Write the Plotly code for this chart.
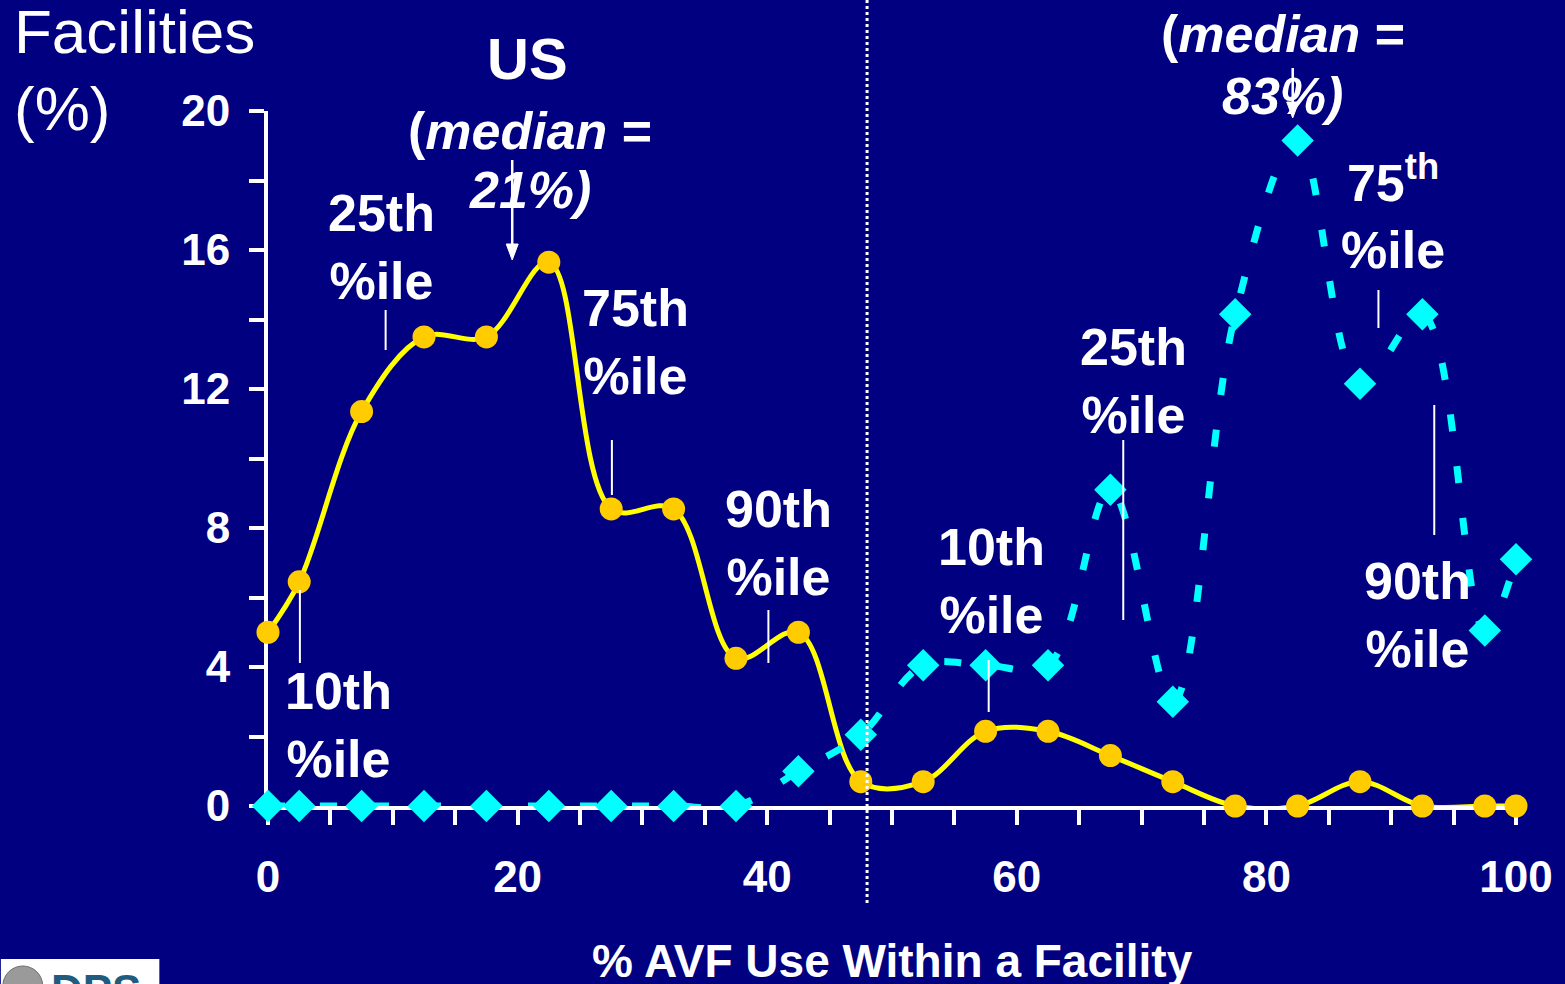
import plotly.graph_objects as go

# Share of facilities (%) by AVF use within a facility (%)
avf_use = [0, 2.5, 7.5, 12.5, 17.5, 22.5, 27.5, 32.5, 37.5, 42.5, 47.5,
           52.5, 57.5, 62.5, 67.5, 72.5, 77.5, 82.5, 87.5, 92.5, 97.5, 100]
us_pct = [5.0, 6.45, 11.35, 13.5, 13.5, 15.65, 8.55, 8.55, 4.25, 5.0, 0.7,
          0.7, 2.15, 2.15, 1.45, 0.7, 0, 0, 0.7, 0, 0, 0]
other_pct = [0, 0, 0, 0, 0, 0, 0, 0, 0, 1.0, 2.05,
             4.05, 4.05, 4.05, 9.1, 3.0, 14.15, 19.15, 12.15, 14.15, 5.05, 7.1]

x_ticks = [0, 20, 40, 60, 80, 100]
y_ticks = [0, 4, 8, 12, 16, 20]

BG = "#000080"
FONT = "Liberation Sans, Arial, sans-serif"
W, H = 1565, 984
L, R, T, B = 268, 45, 111, 178
PW, PH = W - L - R, H - T - B


def px_x(px):
    """pixel column -> paper x"""
    return (px - L) / PW


def px_y(py):
    """pixel row -> paper y"""
    return (H - B - py) / PH


fig = go.Figure()

fig.add_trace(go.Scatter(
    x=avf_use, y=us_pct, name="US",
    mode="lines+markers",
    line=dict(color="#FFFF00", width=5, shape="spline", smoothing=1),
    marker=dict(symbol="circle", size=23, color="#FFCC00"),
    cliponaxis=False,
))
fig.add_trace(go.Scatter(
    x=avf_use, y=other_pct, name="median 83%",
    mode="lines+markers",
    line=dict(color="#00FFFF", width=7, shape="spline", smoothing=1,
              dash="17px,35px"),
    marker=dict(symbol="diamond", size=25, color="#00FFFF"),
    cliponaxis=False,
))

# vertical dotted divider
fig.add_shape(type="line", xref="paper", yref="paper",
              x0=px_x(869), x1=px_x(869), y0=px_y(0), y1=px_y(905),
              line=dict(color="white", width=3, dash="dot"))

# leader lines for the percentile labels
leaders = [(386, 310, 350), (613, 440, 495), (300, 590, 663), (770, 610, 663),
           (1126, 440, 620), (991, 660, 712), (1382, 290, 328), (1438, 405, 535)]
for px, py0, py1 in leaders:
    fig.add_shape(type="line", xref="paper", yref="paper",
                  x0=px_x(px), x1=px_x(px), y0=px_y(py0), y1=px_y(py1),
                  line=dict(color="white", width=2))

white = "white"

# median arrows: shaft plus a filled head
for px, tip, tail in [(513, 260, 160), (1296, 118, 68)]:
    fig.add_shape(type="line", xref="paper", yref="paper",
                  x0=px_x(px), x1=px_x(px), y0=px_y(tail), y1=px_y(tip - 10),
                  line=dict(color=white, width=2.5))
    head = "M {},{} L {},{} L {},{} Z".format(
        px_x(px - 6), px_y(tip - 16), px_x(px + 6), px_y(tip - 16),
        px_x(px), px_y(tip))
    fig.add_shape(type="path", xref="paper", yref="paper", path=head,
                  fillcolor=white, line=dict(color=white, width=1))


def label(text, px, py, size=52, bold=True, anchor="center"):
    fig.add_annotation(
        x=px_x(px), y=px_y(py), xref="paper", yref="paper", text=text,
        showarrow=False, xanchor=anchor, yanchor="middle", align="center",
        font=dict(family=FONT, size=size, color=white,
                  weight="bold" if bold else "normal"),
    )


label("Facilities", 11, 32, size=62, bold=False, anchor="left")
label("(%)", 11, 108, size=62, bold=False, anchor="left")

label("US", 528, 58, size=58)
label("(<i>median</i> =", 531, 131)
label("<i>21%)</i>", 531, 190)
label("(<i>median</i> =", 1286, 34)
label("<i>83%)</i>", 1286, 96)

label("25th<br>%ile", 382, 247)
label("75th<br>%ile", 637, 342)
label("10th<br>%ile", 339, 725)
label("90th<br>%ile", 780, 543)
label("25th<br>%ile", 1136, 381)
label("10th<br>%ile", 994, 581)
label("75<sup>th</sup><br>%ile", 1397, 212)
label("90th<br>%ile", 1421, 615)

# x-axis title
fig.add_annotation(
    x=px_x(895), y=px_y(961), xref="paper", yref="paper",
    text="% AVF Use Within a Facility",
    showarrow=False, xanchor="center", yanchor="middle",
    font=dict(family=FONT, size=46, color=white, weight="bold"),
)

# logo strip in the lower-left corner
fig.add_shape(type="rect", xref="paper", yref="paper",
              x0=px_x(0), x1=px_x(159), y0=px_y(959), y1=px_y(990),
              fillcolor="white", line=dict(width=0), layer="above")
fig.add_shape(type="circle", xref="paper", yref="paper",
              x0=px_x(2), x1=px_x(42), y0=px_y(966), y1=px_y(1006),
              fillcolor="#9a9a9a", line=dict(color="#6e6e6e", width=1),
              layer="above")
fig.add_annotation(
    x=px_x(48), y=px_y(964), xref="paper", yref="paper", text="DPS",
    showarrow=False, xanchor="left", yanchor="top",
    font=dict(family=FONT, size=44, color="#1f5c80", weight="bold"),
)

axis_common = dict(
    showgrid=False, zeroline=False, showline=True, linecolor=white,
    linewidth=4, ticks="outside", ticklen=15, tickwidth=4, tickcolor=white,
    layer="below traces",
    tickfont=dict(family=FONT, size=44, color=white, weight="bold"),
)

fig.update_xaxes(range=[0, 100], tickvals=x_ticks, ticklabelstandoff=14,
                 minor=dict(dtick=5, tick0=0, ticks="outside", ticklen=15,
                            tickwidth=4, tickcolor=white),
                 **axis_common)
fig.update_yaxes(range=[0, 20], tickvals=y_ticks, ticklabelstandoff=10,
                 minor=dict(dtick=2, tick0=0, ticks="outside", ticklen=15,
                            tickwidth=4, tickcolor=white),
                 **axis_common)

fig.update_layout(
    width=W, height=H,
    margin=dict(l=L, r=R, t=T, b=B, pad=0),
    paper_bgcolor=BG, plot_bgcolor=BG,
    showlegend=False,
    font=dict(family=FONT, color=white),
)

fig.write_html("out.html")
